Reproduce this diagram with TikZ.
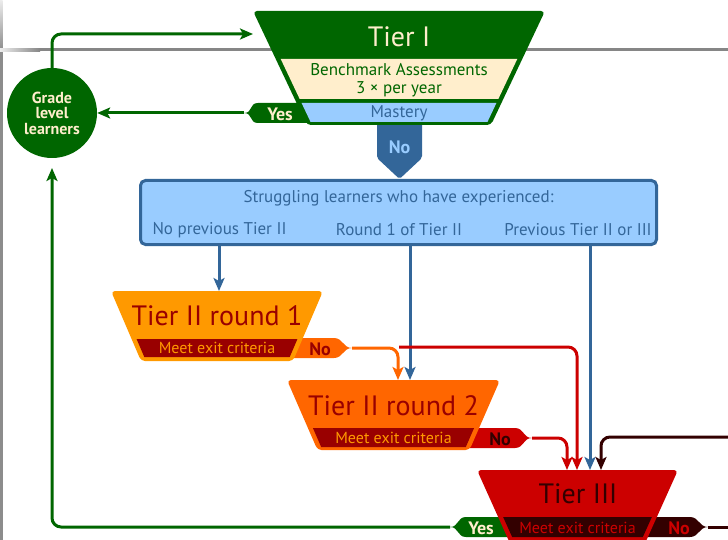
\documentclass[tikz,border=0pt]{standalone}
\usepackage{fontspec}
\setmainfont{PT Sans}
\usetikzlibrary{arrows.meta}
\definecolor{tgreen}{HTML}{006600}
\definecolor{tcream}{HTML}{FFEECC}
\definecolor{lblue}{HTML}{99CCFF}
\definecolor{dblue}{HTML}{336699}
\definecolor{torange}{HTML}{FF9900}
\definecolor{tdorange}{HTML}{FF6600}
\definecolor{tdred}{HTML}{990000}
\definecolor{tred}{HTML}{CC0000}
\definecolor{tbrown}{HTML}{330000}
\newcommand\trapfill[6]{\fill[#6] (#1-#4,#2) -- (#1+#4,#2) -- (#1+#5,#3) -- (#1-#5,#3) -- cycle;}
\newcommand\trapband[8]{%
  \pgfmathsetmacro\bandha{#4-(#4-#5)*(#6-#2)/(#3-#2)-5}%
  \pgfmathsetmacro\bandhb{#4-(#4-#5)*(#7-#2)/(#3-#2)-5}%
  \fill[#8] (#1-\bandha,#6) -- (#1+\bandha,#6) -- (#1+\bandhb,#7) -- (#1-\bandhb,#7) -- cycle;}
% right-pointing tag: x0, x1, yc, tip, style
\newcommand\tagR[5]{\fill[#5] (#1,#3-10) -- (#2,#3-10) .. controls (#2+9,#3-10) and (#4-9,#3) .. (#4,#3) .. controls (#4-9,#3) and (#2+9,#3+10) .. (#2,#3+10) -- (#1,#3+10) -- cycle;}
% left-pointing tag: x0 (right end), x1, yc, tip, style
\newcommand\tagL[5]{\fill[#5] (#1,#3-10) -- (#2,#3-10) .. controls (#2-9,#3-10) and (#4+9,#3) .. (#4,#3) .. controls (#4+9,#3) and (#2-9,#3+10) .. (#2,#3+10) -- (#1,#3+10) -- cycle;}
\begin{document}
\begin{tikzpicture}[x=1pt,y=-1pt,
  conn/.style={line width=3pt, rounded corners=9pt, -{Stealth[length=13pt,width=11pt,inset=3pt]}},
  plainline/.style={line width=3pt, rounded corners=9pt},
  big/.style={font=\fontsize{28}{30}\selectfont, inner sep=0pt},
  mid/.style={font=\fontsize{17}{18}\selectfont, inner sep=0pt},
  exit/.style={font=\fontsize{16}{18}\selectfont, inner sep=0pt},
  tagtxt/.style={font=\bfseries\fontsize{18}{20}\selectfont, inner sep=0pt}]
\useasboundingbox (0,0) rectangle (728,540);
% frame lines
\shade[top color=gray!15, bottom color=gray!90] (0,0) rectangle (2.5,50);
\fill[gray!90] (0,50) rectangle (2.5,540);
\shade[left color=gray!15, right color=gray!95] (0,48.5) rectangle (40,51.5);
\fill[gray!95] (40,48.5) rectangle (728,51.5);
% coordinates
\coordinate (t1in) at (253,34);
\coordinate (yes1tip) at (244,113);
\coordinate (glin) at (52,168);
\coordinate (s1) at (219,245);
\coordinate (s2) at (410,245);
\coordinate (s3) at (590,245);
\coordinate (t2atop) at (219,291);
\coordinate (t2btopA) at (398,380);
\coordinate (t2btopB) at (410,380);
\coordinate (t3a) at (567,470);
\coordinate (t3b) at (577,470);
\coordinate (t3c) at (590,470);
\coordinate (t3d) at (601,470);
\coordinate (no1tip) at (352,348);
\coordinate (redstart) at (399,347);
\coordinate (no2tip) at (532,438);
\coordinate (no3tip) at (708,527);
\coordinate (yes3tip) at (450,527);
\coordinate (rightin) at (728,437);
\coordinate (rightout) at (728,527);
% circle
\node[circle, fill=tgreen, minimum size=90pt, inner sep=0pt] (gl) at (52,113) {};
\node[align=center, text=tcream, font=\bfseries\fontsize{16}{15.5}\selectfont, inner sep=0pt] (gltxt) at (gl.center) {Grade\\level\\learners};
% green connectors
\draw[conn, tgreen] (gl.north) |- (t1in);
\draw[conn, tgreen] (yes1tip) -- (gl.east);
\draw[conn, tgreen] (yes3tip) -| (glin);
% other connectors
\draw[conn, dblue] (s1) -- (t2atop);
\draw[conn, dblue] (s2) -- (t2btopB);
\draw[conn, tred] (redstart) -| (t3b);
\draw[conn, tdorange] (no1tip) -| (t2btopA);
\draw[conn, tred] (no2tip) -| (t3a);
\draw[conn, dblue] (s3) -- (t3c);
\draw[conn, tbrown] (rightin) -| (t3d);
\draw[plainline, tbrown] (no3tip) -- (rightout);
% blue No tag
\fill[dblue, rounded corners=2pt] (377,118) -- (422,118) -- (422,158) -- (399.5,179) -- (377,158) -- cycle;
\node[tagtxt, text=lblue] (notag) at (399.5,147) {No};
% tags
\tagL{320}{258}{113}{244}{tgreen}
\tagR{280}{334}{348}{352}{tdorange}
\tagR{460}{515}{438}{532}{tred}
\tagR{630}{690}{527}{708}{tbrown}
\tagL{530}{466}{527}{450}{tgreen}
% Tier I
\trapfill{399}{11}{125}{146}{92}{tgreen, rounded corners=4pt}
\trapband{399}{11}{125}{146}{92}{59}{99}{tcream}
\trapband{399}{11}{125}{146}{92}{103}{122}{lblue}
\node[big, text=tcream] (t1) at (399,37) {Tier I};
\node[mid, text=tgreen, align=center] (bench) at (399,80) {Benchmark Assessments\\3 × per year};
\node[mid, text=dblue] (mast) at (399,113) {Mastery};
\node[tagtxt, text=tcream] (yes1) at (280,114) {Yes};
% struggling box
\node[draw=dblue, fill=lblue, line width=3pt, rounded corners=5pt, minimum width=516pt, minimum height=64pt, inner sep=0pt] (box) at (398.5,212.5) {};
\node[mid, text=dblue] (st) at (398.5,198) {Struggling learners who have experienced:};
\node[mid, text=dblue] (st1) at (219.5,230) {No previous Tier II};
\node[mid, text=dblue] (st2) at (399,230) {Round 1 of Tier II};
\node[mid, text=dblue] (st3) at (578,230) {Previous Tier II or III};
% Tier II round 1
\trapfill{217}{291}{361}{106}{76}{torange, rounded corners=4pt}
\trapband{217}{291}{361}{106}{76}{339}{357}{tdred}
\node[big, text=tdred] (t2a) at (217,316) {Tier II round 1};
\node[exit, text=torange] (t2aex) at (217,348) {Meet exit criteria};
\node[tagtxt, text=tdred] (no1) at (320,349) {No};
% Tier II round 2
\trapfill{393.5}{380}{450}{106.5}{76}{tdorange, rounded corners=4pt}
\trapband{393.5}{380}{450}{106.5}{76}{428}{447}{tdred}
\node[big, text=tdred] (t2b) at (393.5,406) {Tier II round 2};
\node[exit, text=torange] (t2bex) at (393.5,438) {Meet exit criteria};
\node[tagtxt, text=tbrown] (no2) at (500,439) {No};
% Tier III
\trapfill{577.5}{470}{545}{100.5}{66.75}{tred, rounded corners=4pt}
\trapband{577.5}{470}{545}{100.5}{66.75}{517}{537}{tbrown}
\node[big, text=tbrown] (t3) at (578,494) {Tier III};
\node[exit, text=tred] (t3ex) at (577.5,528) {Meet exit criteria};
\node[tagtxt, text=tred] (no3) at (679,528) {No};
\node[tagtxt, text=tcream] (yes3) at (481,528) {Yes};
\end{tikzpicture}
\end{document}
